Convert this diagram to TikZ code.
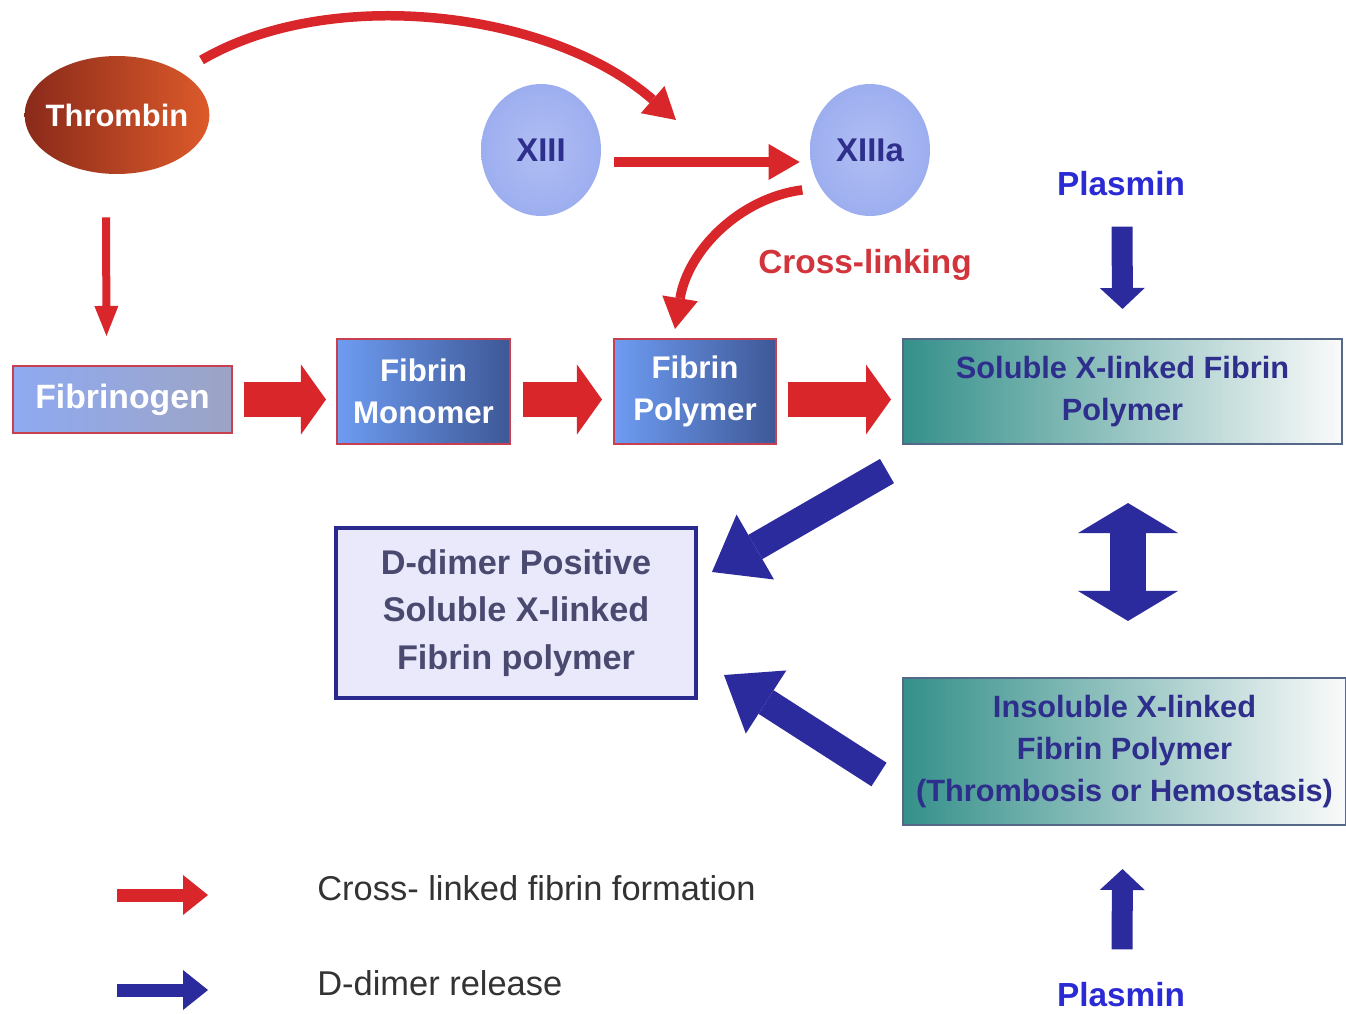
\documentclass[tikz,border=0pt]{standalone}
\usepackage{fontspec}
\setmainfont{Liberation Sans}
\usepackage{xcolor}
\usetikzlibrary{arrows.meta,shapes.geometric,calc}

\definecolor{arrowred}{HTML}{D8262B}
\definecolor{arrowblue}{HTML}{2B2B9E}
\definecolor{navytext}{HTML}{2E2E8C}
\definecolor{plasminblue}{HTML}{2B2BD6}
\definecolor{crossred}{HTML}{D2343C}
\definecolor{ddtext}{HTML}{4A4A70}
\definecolor{ddfill}{HTML}{E9E9FB}
\definecolor{ddborder}{HTML}{2A2A8E}
\definecolor{circfill}{HTML}{9DAEF0}
\definecolor{thrombinL}{HTML}{8A2A1A}
\definecolor{thrombinR}{HTML}{DC5A2A}
\definecolor{fibL}{HTML}{8FAAF2}
\definecolor{fibR}{HTML}{9CA4C4}
\definecolor{monoL}{HTML}{6E9CF2}
\definecolor{monoR}{HTML}{3E5896}
\definecolor{boxred}{HTML}{C84050}
\definecolor{tealL}{HTML}{35908A}
\definecolor{tealmid}{HTML}{DCE6E3}
\definecolor{tealborder}{HTML}{56688A}
\definecolor{legendtext}{HTML}{333333}

\tikzset{
  fibbox/.style={draw=boxred, line width=1.2pt, text=white, align=center,
    font=\bfseries\fontsize{17.8}{23.8}\selectfont},
  xbox/.style={draw=tealborder, line width=1.2pt, left color=tealL,
    middle color=tealmid, right color=white!96!gray, text=navytext,
    align=center, font=\bfseries\fontsize{17.5}{24}\selectfont},
  factor/.style={ellipse, inner color=circfill!80!white, outer color=circfill,
    minimum width=2.4cm, minimum height=2.64cm,
    text=navytext, font=\bfseries\fontsize{18.7}{20}\selectfont},
  plasmin/.style={text=plasminblue, font=\bfseries\fontsize{19}{20}\selectfont},
  legend/.style={anchor=west, text=legendtext, font=\fontsize{19.6}{22}\selectfont},
  redblock/.style={draw=arrowred, line width=0.7cm,
    -{Triangle[width=1.4cm,length=0.5cm,line width=0pt]}},
  redthin/.style={draw=arrowred, line width=0.16cm,
    -{Triangle[width=0.48cm,length=0.6cm,line width=0pt]}},
  redcurve/.style={draw=arrowred, line width=0.19cm,
    -{Triangle[width=0.72cm,length=0.62cm,line width=0pt]}},
  blueblock/.style={draw=arrowblue, line width=0.56cm,
    -{Triangle[width=1.5cm,length=1.0cm,line width=0pt]}},
  bluethin/.style={draw=arrowblue, line width=0.42cm,
    -{Triangle[width=0.9cm,length=0.42cm,line width=0pt]}},
}

\begin{document}
\begin{tikzpicture}[x=0.02cm,y=-0.02cm, every node/.style={inner sep=0pt}]
  \useasboundingbox[fill=white] (0,0) rectangle (1346,1014);

  % Thrombin and factor XIII
  \node[ellipse, inner xsep=-0.12cm, minimum width=3.64cm, minimum height=2.36cm,
    left color=thrombinL, right color=thrombinR, text=white,
    font=\bfseries\fontsize{17.6}{20}\selectfont]
    (thrombin) at (117,115) {Thrombin};
  \node[factor] (xiii) at (541,150) {XIII};
  \node[factor] (xiiia) at (870,150) {XIIIa};
  \node[text=crossred, font=\bfseries\fontsize{19}{20}\selectfont]
    (crosslink) at (865,265) {Cross-linking};

  % Fibrin chain
  \node[fibbox, left color=fibL, right color=fibR, minimum width=4.38cm,
    minimum height=1.34cm, font=\bfseries\fontsize{19.2}{22}\selectfont]
    (fibrinogen) at (122.5,399.5) {Fibrinogen};
  \node[fibbox, left color=monoL, right color=monoR, minimum width=3.46cm,
    minimum height=2.1cm] (monomer) at (423.5,391.5) {Fibrin\\Monomer};
  \node[fibbox, left color=monoL, right color=monoR, minimum width=3.24cm,
    minimum height=2.1cm] (polymer) at (695,391.5) {Fibrin\\Polymer};
  \node[xbox, minimum width=8.78cm, minimum height=2.1cm]
    (soluble) at (1122.5,391.5) {Soluble X-linked Fibrin\\Polymer};
  \node[xbox, minimum width=8.86cm, minimum height=2.94cm]
    (insoluble) at (1124.5,751.5) {Insoluble X-linked\\Fibrin Polymer\\(Thrombosis or Hemostasis)};
  \node[draw=ddborder, line width=2.3pt, fill=ddfill, text=ddtext, align=center,
    minimum width=7.2cm, minimum height=3.4cm,
    font=\bfseries\fontsize{19.5}{27.2}\selectfont]
    (ddimer) at (516,613) {D-dimer Positive\\Soluble X-linked\\Fibrin polymer};

  % Plasmin
  \node[plasmin] (plasminA) at (1121,184) {Plasmin};
  \node[plasmin] (plasminB) at (1121,995) {Plasmin};

  % Red arrows
  \coordinate (activate) at (676,120);
  \draw[redcurve] ($(thrombin.north east)+(19,-13)$)
    .. controls (330,-15) and (550,10) .. (activate);
  \draw[redcurve] ($(xiii.east)+(13,12)$) -- ($(xiiia.west)+(-10,12)$);
  \draw[redcurve] ($(xiiia.south west)+(-25,-7)$)
    .. controls (740,198) and (688,250) .. ($(polymer.north)+(-20,-9)$);
  \draw[redthin] ($(thrombin.south)+(-11,43)$) -- ($(fibrinogen.north)+(-16,-29)$);
  \draw[redblock, shorten <=0.22cm, shorten >=0.2cm]
    (fibrinogen.east) -- (fibrinogen.east -| monomer.west);
  \draw[redblock, shorten <=0.24cm, shorten >=0.22cm]
    (monomer.east |- fibrinogen) -- (polymer.west |- fibrinogen);
  \draw[redblock, shorten <=0.22cm, shorten >=0.22cm]
    (polymer.east |- fibrinogen) -- (soluble.west |- fibrinogen);

  % Blue arrows
  \draw[blueblock] ($(soluble.south west)+(-15,26)$) -- ($(ddimer.east)+(14,-41)$);
  \draw[blueblock] ($(insoluble.west)+(-23,23)$) -- ($(ddimer.east)+(26,62)$);
  \draw[draw=arrowblue, line width=0.72cm,
    {Triangle[width=2cm,length=0.6cm,line width=0pt]}-{Triangle[width=2cm,length=0.6cm,line width=0pt]}]
    ($(soluble.south)+(5.5,58)$) -- ($(insoluble.north)+(3.5,-56)$);
  \draw[bluethin] ($(plasminA.south)+(1,30)$) -- ($(soluble.north)+(0,-29)$);
  \draw[bluethin] ($(plasminB.north)+(1,-33)$) -- ($(insoluble.south)+(-2,43)$);

  % Legend
  \coordinate (keyA) at (117,895);
  \coordinate (keyB) at (208,895);
  \coordinate (keyC) at (117,990);
  \coordinate (keyD) at (208,990);
  \draw[draw=arrowred, line width=0.26cm,
    -{Triangle[width=0.8cm,length=0.5cm,line width=0pt]}] (keyA) -- (keyB);
  \draw[draw=arrowblue, line width=0.26cm,
    -{Triangle[width=0.8cm,length=0.5cm,line width=0pt]}] (keyC) -- (keyD);
  \node[legend] (legendA) at (317,888) {Cross- linked fibrin formation};
  \node[legend] (legendB) at (317,983) {D-dimer release};
\end{tikzpicture}
\end{document}
